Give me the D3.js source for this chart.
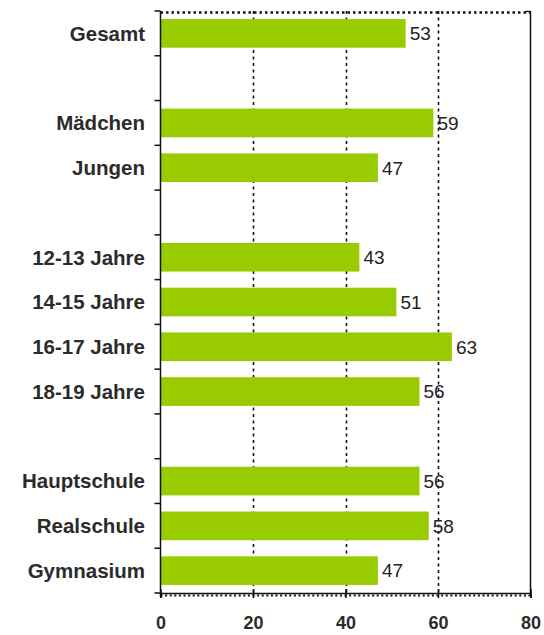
<!DOCTYPE html>
<html>
<head>
<meta charset="utf-8">
<script src="https://cdn.jsdelivr.net/npm/d3@7"></script>
<style>
  html, body { margin: 0; padding: 0; background: #fff; }
  svg { display: block; }
</style>
</head>
<body>
<script>
// Category slots (empty strings leave a gap between groups)
const categories = ["Gesamt", "", "Mädchen", "Jungen", "", "12-13 Jahre", "14-15 Jahre",
                    "16-17 Jahre", "18-19 Jahre", "", "Hauptschule", "Realschule", "Gymnasium"];
const values = [53, null, 59, 47, null, 43, 51, 63, 56, null, 56, 58, 47];
const xTicks = [0, 20, 40, 60, 80];

const W = 544, H = 635;
const plotLeft = 160.5, plotRight = 530.5, plotTop = 11, plotBottom = 593;
const font = "Liberation Sans, Arial, sans-serif";

const svg = d3.select("body").append("svg").attr("width", W).attr("height", H);

const x = d3.scaleLinear().domain([0, 80]).range([plotLeft, plotRight]);
const y = d3.scaleBand().domain(d3.range(categories.length)).range([plotTop, plotBottom])
  .paddingInner(0.36).paddingOuter(0.18);
const slot = d3.scaleBand().domain(d3.range(categories.length)).range([plotTop, plotBottom]);

// Vertical dashed gridlines
svg.append("g").selectAll("line").data(xTicks.filter(t => t > 0 && t < 80)).join("line")
  .attr("x1", d => Math.round(x(d)) + 0.5).attr("x2", d => Math.round(x(d)) + 0.5)
  .attr("y1", plotTop).attr("y2", plotBottom)
  .attr("stroke", "#111").attr("stroke-width", 1.6).attr("stroke-dasharray", "3,3.5");

// Bars
const data = categories.map((c, i) => ({ c, v: values[i], i })).filter(d => d.v !== null);
svg.append("g").selectAll("rect").data(data).join("rect")
  .attr("x", x(0)).attr("y", d => y(d.i))
  .attr("width", d => x(d.v) - x(0)).attr("height", y.bandwidth())
  .attr("fill", "#99cc00");

// Value labels
svg.append("g").selectAll("text").data(data).join("text")
  .attr("x", d => x(d.v) + 4).attr("y", d => y(d.i) + y.bandwidth() / 2)
  .attr("dy", "0.36em")
  .attr("font-family", font).attr("font-size", 19)
  .attr("fill", "#222").text(d => d.v);

// Top border (dotted) and right border (solid)
svg.append("line").attr("x1", plotLeft).attr("x2", plotRight).attr("y1", 12.5).attr("y2", 12.5)
  .attr("stroke", "#111").attr("stroke-width", 2.5).attr("stroke-dasharray", "2.5,3");
svg.append("line").attr("x1", plotRight).attr("x2", plotRight).attr("y1", plotTop).attr("y2", plotBottom)
  .attr("stroke", "#111").attr("stroke-width", 1.5);
svg.append("line").attr("x1", plotRight - 5).attr("x2", plotRight).attr("y1", plotTop + 0.5).attr("y2", plotTop + 0.5)
  .attr("stroke", "#111").attr("stroke-width", 1.5);

// Left category axis with ticks at slot boundaries
svg.append("line").attr("x1", plotLeft).attr("x2", plotLeft).attr("y1", plotTop).attr("y2", plotBottom + 4)
  .attr("stroke", "#111").attr("stroke-width", 1.5);
svg.append("g").selectAll("line").data(d3.range(categories.length + 1)).join("line")
  .attr("x1", plotLeft - 6).attr("x2", plotLeft)
  .attr("y1", d => (d < categories.length ? slot(d) : plotBottom))
  .attr("y2", d => (d < categories.length ? slot(d) : plotBottom))
  .attr("stroke", "#111").attr("stroke-width", 1.5);

svg.append("g").selectAll("text").data(categories.map((c, i) => ({ c, i })).filter(d => d.c)).join("text")
  .attr("x", 145).attr("y", d => slot(d.i) + slot.bandwidth() / 2).attr("dy", "0.36em")
  .attr("text-anchor", "end")
  .attr("font-family", font).attr("font-size", 20.5)
  .attr("font-weight", "bold").attr("fill", "#2b2b2b").text(d => d.c);

// Bottom value axis
const xAxis = d3.axisBottom(x).tickValues(xTicks).tickSize(5).tickPadding(18)
  .tickFormat(d3.format("d"));
const gx = svg.append("g").attr("transform", `translate(0,${plotBottom})`).call(xAxis);
gx.select(".domain").attr("stroke", "#111").attr("stroke-width", 1.5);
gx.selectAll(".tick line").attr("stroke", "#111").attr("stroke-width", 1.5).attr("y1", -4);
gx.selectAll(".tick text").attr("font-family", font)
  .attr("font-size", 18).attr("font-weight", "bold").attr("fill", "#2b2b2b");
// Minor tick row under the axis line
svg.append("line").attr("x1", plotLeft).attr("x2", plotRight).attr("y1", plotBottom + 2.5).attr("y2", plotBottom + 2.5)
  .attr("stroke", "#111").attr("stroke-width", 2).attr("stroke-dasharray", "2,2.6");
</script>
</body>
</html>
